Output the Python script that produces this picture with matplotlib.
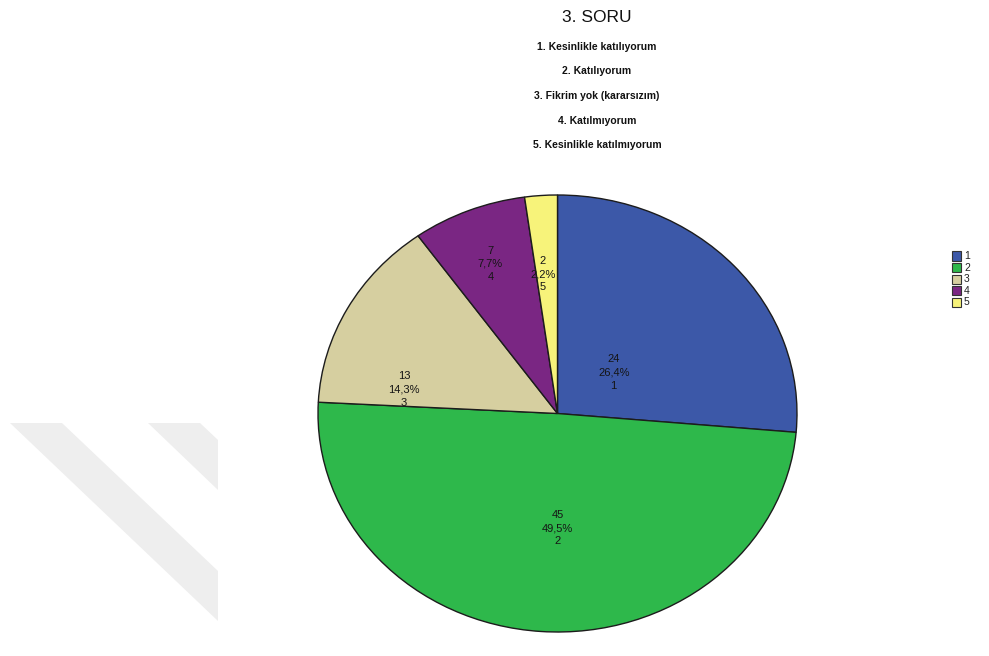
import matplotlib
matplotlib.use("Agg")
import matplotlib.pyplot as plt
import numpy as np
from matplotlib.patches import Polygon

# Responses to question 3
categories = ["1", "2", "3", "4", "5"]
counts = [24, 45, 13, 7, 2]
percent_labels = ["26,4%", "49,5%", "14,3%", "7,7%", "2,2%"]
answer_texts = [
    "1. Kesinlikle katılıyorum",
    "2. Katılıyorum",
    "3. Fikrim yok (kararsızım)",
    "4. Katılmıyorum",
    "5. Kesinlikle katılmıyorum",
]

colors = ["#3c58a8", "#2eb84b", "#d6cfa0", "#7a2683", "#f7f37a"]
# slice label placement: distance from centre (fraction of radius)
# and angular nudge away from the wedge's mid angle, in degrees
label_radius = [0.30, 0.525, 0.65, 0.74, 0.64]
label_nudge = [-4, 4, 19, 0.5, 1.5]

W, H = 989, 656
fig = plt.figure(figsize=(W / 100, H / 100), dpi=100)
fig.patch.set_facecolor("white")

# faint diagonal watermark bands in the lower left
for pts in ([(10, 423), (62, 423), (218, 571), (218, 621)],
            [(148, 423), (200, 423), (218, 440), (218, 490)]):
    poly = Polygon([(x / W, 1 - y / H) for x, y in pts], closed=True,
                   transform=fig.transFigure, facecolor="#eeeeee",
                   edgecolor="none", zorder=0)
    fig.patches.append(poly)

# pie is slightly wider than tall
ax = fig.add_axes([318 / W, 1 - 632 / H, 479 / W, 437 / H])
wedges, _ = ax.pie(
    counts,
    colors=colors,
    startangle=90,
    counterclock=False,
    radius=1.0,
    wedgeprops=dict(edgecolor="#1c1c1c", linewidth=1.0),
)
ax.set_aspect("auto")
ax.set_xlim(-1.0, 1.0)
ax.set_ylim(-1.0, 1.0)
ax.axis("off")

for w, n, pct, cat, r, d in zip(wedges, counts, percent_labels, categories,
                                label_radius, label_nudge):
    mid = np.deg2rad((w.theta1 + w.theta2) / 2 + d)
    ax.text(r * np.cos(mid), r * np.sin(mid), f"{n}\n{pct}\n{cat}",
            ha="center", va="center", fontsize=8, linespacing=1.4,
            color="#151515", family="Liberation Sans")

fig.text(597 / W, 1 - 18 / H, "3. SORU", ha="center", va="center",
         fontsize=12.5, family="Liberation Sans", color="#111111")
for i, t in enumerate(answer_texts):
    fig.text(597 / W, 1 - (47 + 24.5 * i) / H, t, ha="center", va="center",
             fontsize=7.5, fontweight="bold", family="Liberation Sans",
             color="#111111")

# legend: small squares with category numbers
for i, (cat, c) in enumerate(zip(categories, colors)):
    y = 256 + 11.6 * i
    sq = Polygon([(952 / W, 1 - (y - 4.5) / H), (961 / W, 1 - (y - 4.5) / H),
                  (961 / W, 1 - (y + 4.5) / H), (952 / W, 1 - (y + 4.5) / H)],
                 closed=True, transform=fig.transFigure, facecolor=c,
                 edgecolor="#333333", linewidth=0.8)
    fig.patches.append(sq)
    fig.text(964 / W, 1 - y / H, cat, ha="left", va="center", fontsize=7.5,
             family="Liberation Sans", color="#222222")

fig.savefig("out.png", dpi=100, facecolor="white")
